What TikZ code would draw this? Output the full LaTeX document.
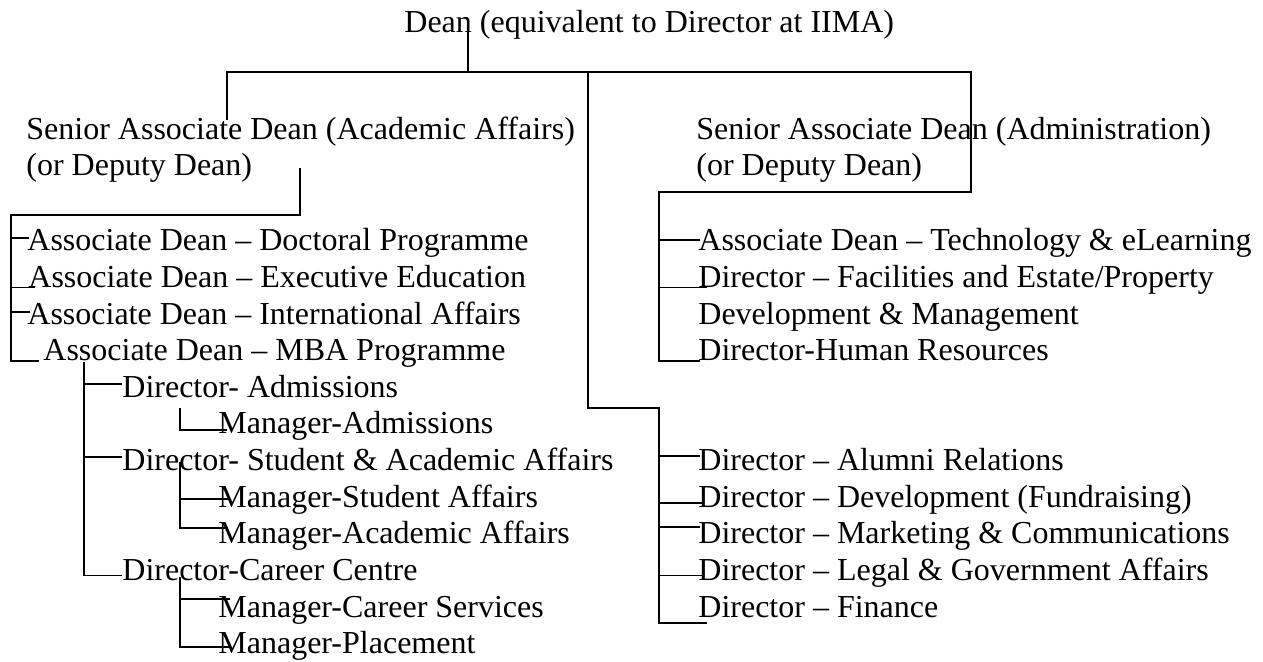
\documentclass[tikz,border=0pt]{standalone}
\usepackage{fontspec}
\setmainfont{Liberation Serif}

\tikzset{
  post/.style={anchor=base west,inner sep=0pt,font=\fontsize{16}{18}\selectfont},
  link/.style={line width=0.9pt},
}

\begin{document}
\begin{tikzpicture}[x=0.5pt,y=-0.5pt]
    \useasboundingbox(0,0)rectangle(1263,662);
    % top and the two senior deans
    \node[post](dean) at(404,33){Dean (equivalent to Director at IIMA)};
    \node[post](sadAcad) at(26,140){Senior Associate Dean (Academic Affairs)};
    \node[post](sadAcadB) at(26,176){(or Deputy Dean)};
    \node[post](sadAdmin) at(696,140){Senior Associate Dean (Administration)};
    \node[post](sadAdminB) at(696,176){(or Deputy Dean)};
    % academic side
    \node[post](adDoc) at(27,251){Associate Dean \textendash{} Doctoral Programme};
    \node[post](adExec) at(28,287.6){Associate Dean \textendash{} Executive Education};
    \node[post](adIntl) at(27,324.2){Associate Dean \textendash{} International Affairs};
    \node[post](adMba) at(43,360.8){Associate Dean \textendash{} MBA Programme};
    \node[post](dirAdm) at(122,397.4){Director- Admissions};
    \node[post](mgrAdm) at(218,434){Manager-Admissions};
    \node[post](dirStu) at(122,470.6){Director- Student \& Academic Affairs};
    \node[post](mgrStu) at(218,507.2){Manager-Student Affairs};
    \node[post](mgrAca) at(218,543.8){Manager-Academic Affairs};
    \node[post](dirCar) at(122,580.4){Director-Career Centre};
    \node[post](mgrCar) at(218,617){Manager-Career Services};
    \node[post](mgrPla) at(218,653.6){Manager-Placement};
    % administration side
    \node[post](adTech) at(698,251){Associate Dean \textendash{} Technology \& eLearning};
    \node[post](dirFac) at(698,287.6){Director \textendash{} Facilities and Estate/Property};
    \node[post](dirFacB) at(698,324.2){Development \& Management};
    \node[post](dirHr) at(698,360.8){Director-Human Resources};
    % offices under the dean
    \node[post](dirAlu) at(698,470.6){Director \textendash{} Alumni Relations};
    \node[post](dirDev) at(698,507.2){Director \textendash{} Development (Fundraising)};
    \node[post](dirMkt) at(698,543.8){Director \textendash{} Marketing \& Communications};
    \node[post](dirLeg) at(698,580.4){Director \textendash{} Legal \& Government Affairs};
    \node[post](dirFin) at(698,617){Director \textendash{} Finance};

    % joints of the lines
    \coordinate(deanFoot) at(468,72);
    \coordinate(barL) at(227,72);
    \coordinate(barR) at(971,72);
    \coordinate(barM) at(588,72);
    \coordinate(acadTop) at(227,120);
    \coordinate(acadDrop) at(300,168);
    \coordinate(acadCol) at(11,215);
    \coordinate(mbaCol) at(84,362);
    \coordinate(admCol) at(180,408);
    \coordinate(stuCol) at(180,462);
    \coordinate(carCol) at(180,577);
    \coordinate(adminCol) at(659,192);
    \coordinate(officeCol) at(659,408);

    \draw[link](deanFoot)--++(0,-52);
    \draw[link](acadTop)--(barL)--(barR)|-(adminCol)|-([shift={(2,0)}]dirHr.base west);
    \draw[link](barM)|-(officeCol)|-([shift={(9,6)}]dirFin.base west);
    \draw[link](acadDrop)|-(acadCol)|-([shift={(-4,0)}]adMba.base west);
    \draw[link](mbaCol)|-([shift={(0,-5)}]dirCar.base west);
    \draw[link](admCol)|-([shift={(9,-4)}]mgrAdm.base west);
    \draw[link](stuCol)|-([shift={(10,-16)}]mgrAca.base west);
    \draw[link](carCol)|-([shift={(12,-7)}]mgrPla.base west);

    % short ticks into the text
    \foreach \n/\dx/\dy/\col in {adDoc/2/-13/acadCol,adExec/7/0/acadCol,adIntl/3/-12/acadCol,
        dirAdm/0/-13/mbaCol,dirStu/0/-14/mbaCol,mgrStu/12/-8/stuCol,mgrCar/12/-18/carCol,
        adTech/2/-11/adminCol,dirFac/9/0/adminCol,
        dirAlu/2/-15/officeCol,dirDev/5/-4/officeCol,dirMkt/2/-17/officeCol,dirLeg/5/-5/officeCol}
        \draw[link]([shift={(\dx,\dy)}]\n.base west)coordinate(t)--(t-|\col);
\end{tikzpicture}
\end{document}
